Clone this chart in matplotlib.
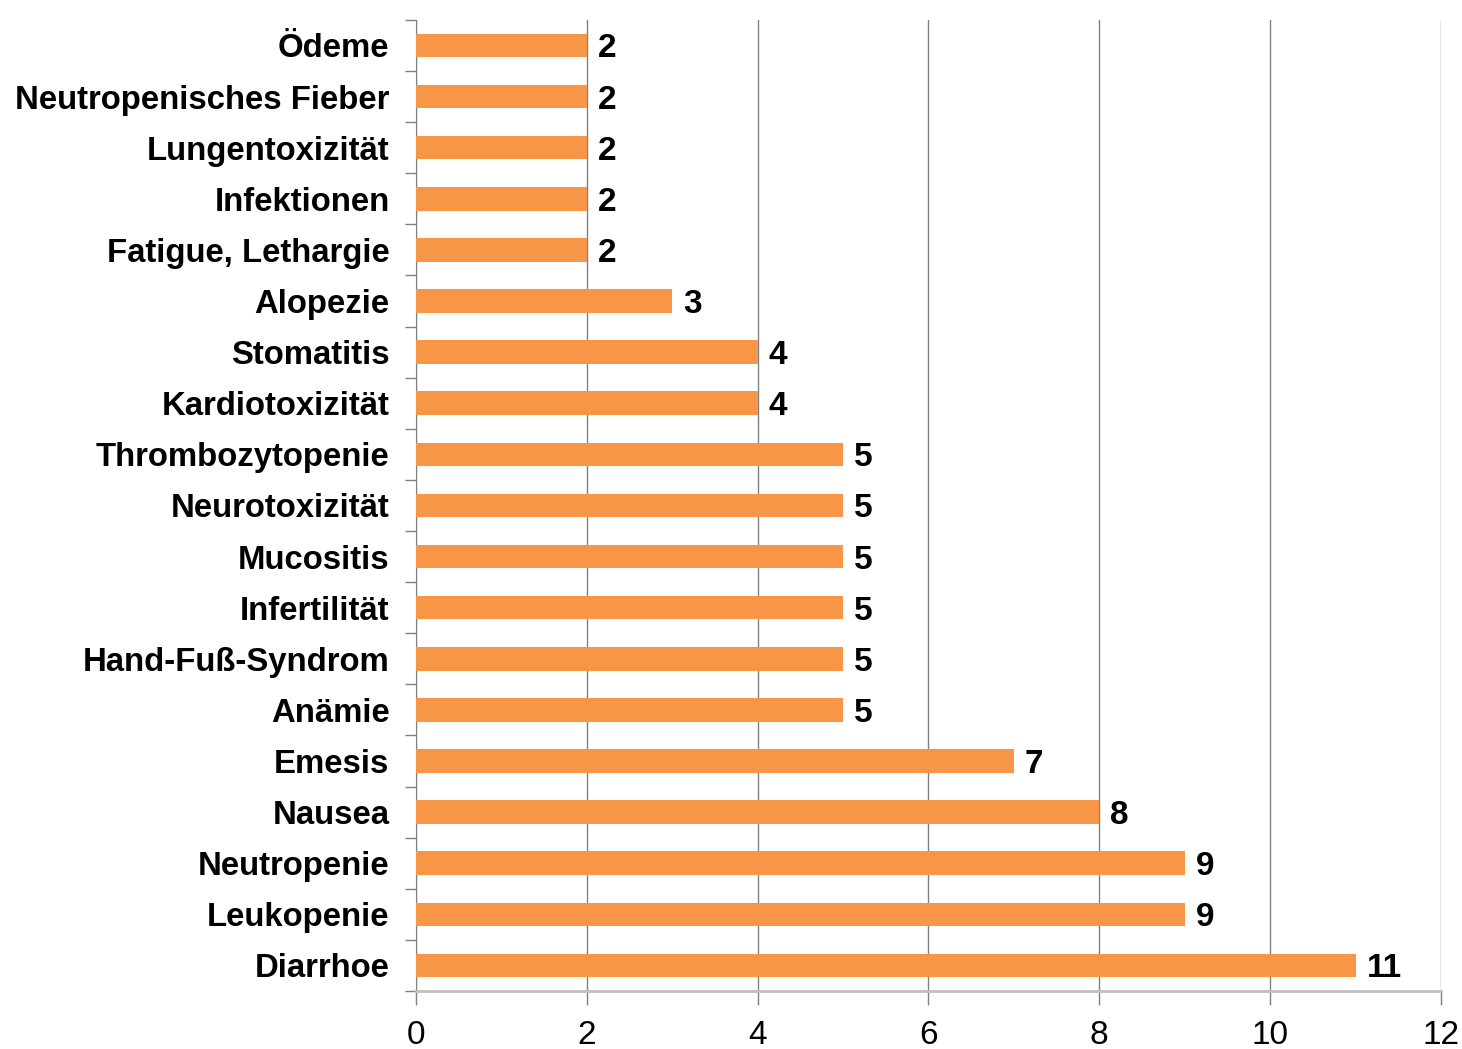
import matplotlib.pyplot as plt
import numpy as np

plt.rcParams['font.family'] = ['Liberation Sans', 'DejaVu Sans']

# data, bottom to top
categories = ['Diarrhoe', 'Leukopenie', 'Neutropenie', 'Nausea', 'Emesis', 'Anämie',
              'Hand-Fuß-Syndrom', 'Infertilität', 'Mucositis', 'Neurotoxizität',
              'Thrombozytopenie', 'Kardiotoxizität', 'Stomatitis', 'Alopezie',
              'Fatigue, Lethargie', 'Infektionen', 'Lungentoxizität',
              'Neutropenisches Fieber', 'Ödeme']
values = [11, 9, 9, 8, 7, 5, 5, 5, 5, 5, 5, 4, 4, 3, 2, 2, 2, 2, 2]
x_ticks = [0, 2, 4, 6, 8, 10, 12]

fig = plt.figure(figsize=(14.62, 10.49), dpi=100)
ax = fig.add_axes([0.2845, 0.0553, 0.9856 - 0.2845, 0.981 - 0.0553])

y = np.arange(len(categories))
ax.barh(y, values, height=0.46, color='#F79646', zorder=3)

for yi, v in zip(y, values):
    ax.text(v + 0.13, yi, str(v), va='center_baseline', ha='left', fontsize=24,
            fontweight='bold', color='black')

ax.set_xlim(0, 12)
ax.set_ylim(-0.5, len(categories) - 0.5)
ax.set_xticks(x_ticks)
ax.set_xticklabels([str(t) for t in x_ticks], fontsize=24)
ax.set_yticks(y)
ax.set_yticklabels(categories, fontsize=23.7, fontweight='bold')
ax.set_yticks(np.arange(-0.5, len(categories), 1), minor=True)

ax.tick_params(axis='y', which='major', length=0, pad=19)
ax.tick_params(axis='y', which='minor', length=8, color='#808080', width=1)
ax.tick_params(axis='x', length=10, color='#808080', width=1, pad=11)

ax.grid(axis='x', color='#808080', linewidth=1, zorder=0)
for s in ['top', 'right']:
    ax.spines[s].set_visible(False)
ax.spines['left'].set_color('#808080')
ax.spines['bottom'].set_color('#BFBFBF')
ax.spines['bottom'].set_linewidth(2)

plt.savefig('out.png', dpi=100)
